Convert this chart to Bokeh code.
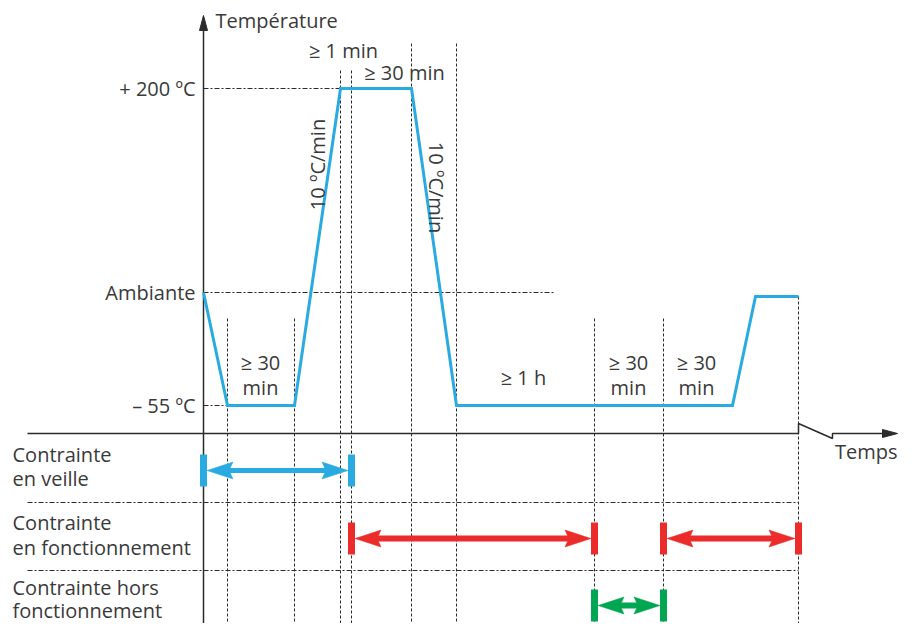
from bokeh.plotting import figure
from bokeh.models import Range1d
from bokeh.core.properties import value
from bokeh.embed import file_html
from bokeh.resources import INLINE

# ---------------- data (schematic units: time along x, level along y) ----------------
# y axis sits at t = 0, time axis at level = 0
profile_t = [0, 24, 91, 137, 208, 253, 529, 552, 595]
profile_level = [141, 28, 28, 345, 345, 28, 28, 137, 137]

level_labels = ["+ 200 ºC", "Ambiante", "– 55 ºC"]
level_values = [345, 141, 28]
level_guide_end = [137, 350, 24]

marker_t = [24, 91, 137, 148, 208, 253, 391, 460, 595]
marker_top = [115, 115, 363, 363, 390, 390, 115, 115, 137]

duration_text = ["≥ 1 min", "≥ 30 min", "≥ 30", "min", "≥ 1 h", "≥ 30", "min", "≥ 30", "min"]
duration_t = [140, 201, 57, 57, 320, 425, 425, 493, 493]
duration_level = [383, 361, 71, 46, 56, 71, 46, 71, 46]

rate_text = ["10 ºC/min", "10 ºC/min"]
rate_t = [114, 233]
rate_level = [269, 246]
rate_angle = [90, -90]

row_label_lines = ["Contrainte", "en veille", "Contrainte", "en fonctionnement",
                   "Contrainte hors", "fonctionnement"]
row_label_level = [-21, -45, -89, -114, -154, -177]

row_level = [-37, -105, -172]
row_separator = [-69, -137]

constraint_row = [0, 1, 1, 2]
constraint_start = [0, 148, 460, 391]
constraint_end = [148, 391, 595, 460]
constraint_color = ["#29abe2", "#ec2b2b", "#ec2b2b", "#00a651"]

# ---------------- figure ----------------
W, H = 899, 623
X0, YTOP = -203, 433
p = figure(width=W, height=H, output_backend="svg", toolbar_location=None,
           x_range=Range1d(X0, X0 + W), y_range=Range1d(YTOP - H, YTOP),
           x_axis_location=None, y_axis_location=None, min_border=0)
p.grid.visible = False
p.outline_line_color = None
p.background_fill_color = "white"
p.border_fill_color = "white"

INK = "#2b2b2b"
TXT = "#3a3a3a"
FONT = value("Open Sans")
bottom = YTOP - H

# vertical phase markers
p.segment(x0=marker_t, y0=marker_top, x1=marker_t, y1=[bottom] * len(marker_t),
          line_color=INK, line_width=1, line_dash="3 2")
# level guides
p.segment(x0=[0] * 3, y0=level_values, x1=level_guide_end, y1=level_values,
          line_color=INK, line_width=1, line_dash="5 2 2 2")
# row separators
p.segment(x0=[-176] * 2, y0=row_separator, x1=[595] * 2, y1=row_separator,
          line_color=INK, line_width=1, line_dash="5 2 2 2")

# axes
p.line([0, 0], [bottom, 405], line_color=INK, line_width=1.5)
p.patch([0, -4, 4], [418, 403, 403], fill_color=INK, line_color=INK)
p.line([-176, 595, 595, 629, 629, 682], [0, 0, 10, -5, 0, 0], line_color=INK, line_width=1.5)
p.patch([694, 679, 679], [0, 4, -4], fill_color=INK, line_color=INK)

# temperature profile
p.line(profile_t, profile_level, line_color="#29abe2", line_width=3, line_join="miter")

# constraint arrows
HL, HW, BW, BH = 26, 8.5, 7, 16
for r, s, e, c in zip(constraint_row, constraint_start, constraint_end, constraint_color):
    y = row_level[r]
    lw = 5 if c == "#29abe2" else 6
    xs0, xs1 = s + BW / 2, e - BW / 2
    p.segment(x0=[xs0 + HL * 0.8], y0=[y], x1=[xs1 - HL * 0.8], y1=[y], line_color=c, line_width=lw)
    p.patch([xs0, xs0 + HL, xs0 + HL * 0.85, xs0 + HL], [y, y + HW, y, y - HW],
            fill_color=c, line_color=c, line_width=0.5)
    p.patch([xs1, xs1 - HL, xs1 - HL * 0.85, xs1 - HL], [y, y + HW, y, y - HW],
            fill_color=c, line_color=c, line_width=0.5)
    p.rect(x=[s, e], y=[y, y], width=BW, height=2 * BH, fill_color=c, line_color=None)

# texts
p.text(x=[12], y=[413], text=["Température"], text_font=FONT, text_font_size="20px",
       text_color=TXT, text_align="left", text_baseline="middle")
p.text(x=[-8] * 3, y=level_values, text=level_labels, text_font=FONT, text_font_size="20px",
       text_color=TXT, text_align="right", text_baseline="middle")
p.text(x=duration_t, y=duration_level, text=duration_text, text_font=FONT, text_font_size="20px",
       text_color=TXT, text_align="center", text_baseline="middle")
for t, lv, tx, a in zip(rate_t, rate_level, rate_text, rate_angle):
    p.text(x=[t], y=[lv], text=[tx], angle=a, angle_units="deg", text_font=FONT,
           text_font_size="20px", text_color=TXT, text_align="center", text_baseline="middle")
p.text(x=[-191] * len(row_label_lines), y=row_label_level, text=row_label_lines, text_font=FONT,
       text_font_size="20px", text_color=TXT, text_align="left", text_baseline="middle")
p.text(x=[694], y=[-18], text=["Temps"], text_font=FONT, text_font_size="20px",
       text_color=TXT, text_align="right", text_baseline="middle")

open("out.html", "w").write(file_html(p, INLINE))
